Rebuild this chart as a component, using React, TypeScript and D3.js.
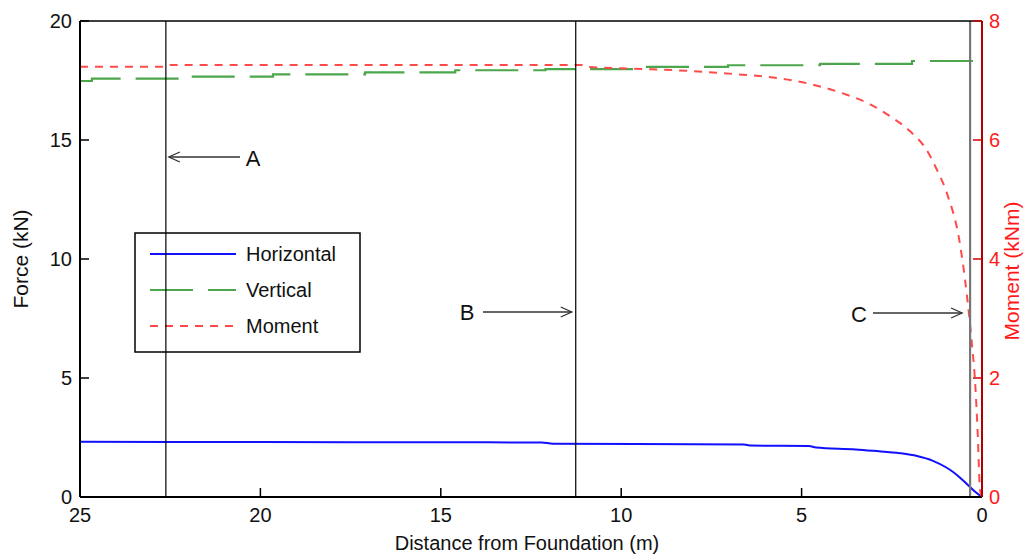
import React from 'react';
import * as d3 from 'd3';

// horizontal force (kN) vs distance from foundation (m)
const horizDist = [25, 20, 15, 12.2, 11.9, 8, 6.6, 6.4, 4.8, 4.6, 3.5, 3.0, 2.27, 1.8, 1.36, 1.0, 0.8, 0.6, 0.42, 0.19, 0];
const horizForce = [2.32, 2.31, 2.3, 2.29, 2.24, 2.22, 2.21, 2.16, 2.14, 2.08, 2.0, 1.94, 1.84, 1.72, 1.52, 1.25, 1.05, 0.8, 0.55, 0.22, 0];

// vertical force (kN), stepped
const vertDist = [25, 24.67, 22.23, 19.65, 17.1, 14.6, 12.1, 9.56, 7.04, 4.49, 1.94, 0.25];
const vertForce = [17.48, 17.58, 17.66, 17.76, 17.84, 17.93, 17.98, 18.07, 18.14, 18.2, 18.32, 18.32];

// moment (kNm)
const momentDist = [25, 22.62, 22.5, 11.1, 11.0, 9.76, 8.09, 6.9, 5.79, 4.68, 3.94, 3.1, 2.55, 2.0, 1.5, 1.25, 0.97, 0.61, 0.42, 0.29, 0.19, 0.12, 0.055, 0];
const momentVal = [7.23, 7.23, 7.26, 7.26, 7.23, 7.2, 7.16, 7.11, 7.05, 6.93, 6.8, 6.6, 6.4, 6.15, 5.8, 5.5, 5.1, 4.25, 3.4, 2.64, 1.92, 1.08, 0.12, 0];

const xTicks = [25, 20, 15, 10, 5, 0];
const forceTicks = [0, 5, 10, 15, 20];
const momentTicks = [0, 2, 4, 6, 8];

// marker lines A, B, C
const markerNames = ['A', 'B', 'C'];
const markerDist = [22.62, 11.26, 0.33];

const legendNames = ['Horizontal', 'Vertical', 'Moment'];

const FONT = 'Liberation Sans, Arial, sans-serif';

export default function App() {
  const left = 80, right = 982, top = 21, bottom = 497;

  const x = d3.scaleLinear().domain([25, 0]).range([left, right]);
  const yF = d3.scaleLinear().domain([0, 20]).range([bottom, top]);
  const yM = d3.scaleLinear().domain([0, 8]).range([bottom, top]);

  const horizLine = d3.line<number>()
    .x((d, i) => x(horizDist[i]))
    .y(d => yF(d))
    .curve(d3.curveMonotoneX);
  const vertLine = d3.line<number>()
    .x((d, i) => x(vertDist[i]))
    .y(d => yF(d))
    .curve(d3.curveStepAfter);
  const momentLine = d3.line<number>()
    .x((d, i) => x(momentDist[i]))
    .y(d => yM(d))
    .curve(d3.curveMonotoneX);

  const legendStyles = [
    { stroke: '#1010ff', dash: 'none' },
    { stroke: '#4ca64c', dash: '43,15' },
    { stroke: '#ff4a4a', dash: '8,7' },
  ];

  // arrow annotations: label position and arrow ends
  const arrows = markerNames.map((name, i) => {
    const xl = x(markerDist[i]);
    if (i === 0) return { name, tx: 253, ty: 158, x1: 240, x2: xl + 3, y: 157 };
    if (i === 1) return { name, tx: 467, ty: 312, x1: 483, x2: xl - 4, y: 312 };
    return { name, tx: 859, ty: 314, x1: 873, x2: xl - 8, y: 313 };
  });

  return (
    <svg width={1025} height={555} style={{ position: 'absolute', left: 0, top: 0, background: '#fff' }}
      fontFamily={FONT}>
      {/* series */}
      <path d={horizLine(horizForce) || ''} fill="none" stroke="#1010ff" strokeWidth={2} />
      <path d={vertLine(vertForce) || ''} fill="none" stroke="#4ca64c" strokeWidth={2.2} strokeDasharray="43,15" />
      <path d={momentLine(momentVal) || ''} fill="none" stroke="#ff4a4a" strokeWidth={2} strokeDasharray="8,7" />

      {/* legend */}
      <rect x={135} y={233} width={225} height={119} fill="#fff" stroke="#000" strokeWidth={1.5} />
      {legendNames.map((n, i) => (
        <g key={n}>
          <line x1={150} x2={236} y1={254 + i * 36} y2={254 + i * 36}
            stroke={legendStyles[i].stroke} strokeWidth={2}
            strokeDasharray={legendStyles[i].dash} />
          <text x={246} y={254 + i * 36} dy="0.36em" fontSize={20} fill="#111">{n}</text>
        </g>
      ))}

      {/* marker lines */}
      {markerDist.map((d, i) => (
        <line key={i} x1={x(d)} x2={x(d)} y1={top} y2={bottom}
          stroke={i === 2 ? '#777' : '#000'} strokeWidth={i === 2 ? 2.2 : 1.2} />
      ))}

      {/* annotations */}
      {arrows.map(a => {
        const dir = a.x2 > a.x1 ? 1 : -1;
        return (
          <g key={a.name}>
            <text x={a.tx} y={a.ty} dy="0.36em" textAnchor="middle" fontSize={22} fill="#111">{a.name}</text>
            <line x1={a.x1} x2={a.x2} y1={a.y} y2={a.y} stroke="#333" strokeWidth={1.3} />
            <path d={`M${a.x2 - dir * 11},${a.y - 5}L${a.x2},${a.y}L${a.x2 - dir * 11},${a.y + 5}`}
              fill="none" stroke="#333" strokeWidth={1.3} />
          </g>
        );
      })}

      {/* box */}
      <line x1={left} x2={right} y1={top} y2={top} stroke="#000" strokeWidth={1.5} />
      <line x1={left} x2={right} y1={bottom} y2={bottom} stroke="#000" strokeWidth={2} />
      <line x1={left} x2={left} y1={top} y2={bottom} stroke="#000" strokeWidth={2} />
      <line x1={right} x2={right} y1={top} y2={bottom} stroke="#b00000" strokeWidth={2} />

      {/* bottom axis */}
      {xTicks.map(t => (
        <g key={t}>
          {t !== 25 && t !== 0 && (
            <line x1={x(t)} x2={x(t)} y1={bottom} y2={bottom - 9} stroke="#000" strokeWidth={1.5} />
          )}
          <text x={x(t)} y={522} textAnchor="middle" fontSize={20} fill="#111">{t}</text>
        </g>
      ))}
      <text x={527} y={550} textAnchor="middle" fontSize={20} fill="#111">Distance from Foundation (m)</text>

      {/* left axis */}
      {forceTicks.map(t => (
        <g key={t}>
          {t !== 0 && (
            <line x1={left} x2={left + 9} y1={yF(t)} y2={yF(t)} stroke="#000" strokeWidth={1.5} />
          )}
          <text x={72} y={yF(t)} dy="0.36em" textAnchor="end" fontSize={20} fill="#111">{t}</text>
        </g>
      ))}
      <text transform={`translate(28,${(top + bottom) / 2}) rotate(-90)`} textAnchor="middle"
        fontSize={21} fill="#111">Force (kN)</text>

      {/* right axis */}
      {momentTicks.map(t => (
        <g key={t}>
          {t !== 0 && (
            <line x1={right} x2={right - 9} y1={yM(t)} y2={yM(t)} stroke="#d00000" strokeWidth={1.5} />
          )}
          <text x={989} y={yM(t)} dy="0.36em" textAnchor="start" fontSize={20} fill="#ff1a1a">{t}</text>
        </g>
      ))}
      <text transform={`translate(1019,${(top + bottom) / 2 + 12}) rotate(-90)`} textAnchor="middle"
        fontSize={21} fill="#ff1a1a">Moment (kNm)</text>
    </svg>
  );
}
